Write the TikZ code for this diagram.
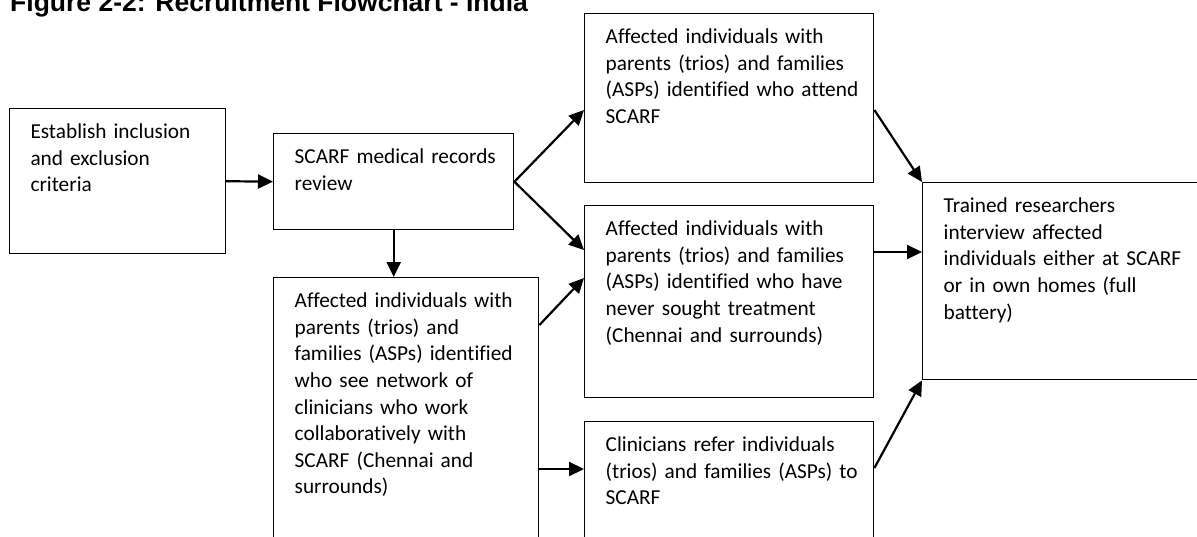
\documentclass[tikz,border=0pt]{standalone}
\usepackage{fontspec}
\setmainfont{Carlito}[Ligatures=CommonOff]
\newfontfamily\headfont{Liberation Sans}
\usepackage{tikz}
\usetikzlibrary{arrows.meta, positioning}

\newcommand{\boxtext}{\fontsize{21.3}{26.6}\selectfont}

\begin{document}
\begin{tikzpicture}[x=1pt, y=-1pt,
    flowbox/.style={draw, rectangle, line width=1.4pt, anchor=north west, inner sep=0pt, align=left, font=\boxtext, text height=30pt, execute at begin node={\leftskip=21pt}},
    arr/.style={-{Triangle[length=15pt, width=14pt]}, line width=2.2pt}]

    \useasboundingbox (0,0) rectangle (1197,536);
    \clip (0,0) rectangle (1197,536);

    % Title
    \node (title) [anchor=base west, inner sep=0pt, font=\headfont\bfseries\fontsize{26.5}{30}\selectfont] at (10,11) {Figure 2-2: Recruitment Flowchart - India};

    % Nodes for the first two steps
    \node (crit) [flowbox, text width=216pt, text depth=115pt] at (8.8,108) {Establish inclusion\\and exclusion\\criteria};
    \node (review) [flowbox, text width=240pt, text depth=66pt] at (273,133) {SCARF medical records\\review};
    \node (network) [flowbox, text width=265pt, text depth=270pt] at (273,277) {Affected individuals with\\parents (trios) and\\families (ASPs) identified\\who see network of\\clinicians who work\\collaboratively with\\SCARF (Chennai and\\surrounds)};

    % Nodes for the three recruitment routes
    \node (attend) [flowbox, text width=289pt, text depth=139pt] at (584,13) {Affected individuals with\\parents (trios) and families\\(ASPs) identified who attend\\SCARF};
    \node (never) [flowbox, text width=289pt, text depth=162pt] at (584,205) {Affected individuals with\\parents (trios) and families\\(ASPs) identified who have\\never sought treatment\\(Chennai and surrounds)};
    \node (refer) [flowbox, text width=289pt, text depth=130pt] at (584,421) {Clinicians refer individuals\\(trios) and families (ASPs) to\\SCARF};

    % Node for the interview
    \node (trained) [flowbox, text width=320pt, text depth=167pt] at (922,182) {Trained researchers\\interview affected\\individuals either at SCARF\\or in own homes (full\\battery)};

    % Draw arrows between the steps
    \draw[arr] (crit.east) -- (review.west);
    \draw[arr] (review.east) -- ([yshift=-97pt]attend.north west);
    \draw[arr] (review.east) -- ([yshift=-45pt]never.north west);
    \draw[arr] (review.south) -- (review.south |- network.north);
    \draw[arr] ([yshift=-48pt]network.north east) -- ([yshift=-73pt]never.north west);
    \draw[arr] ([yshift=-192pt]network.north east) -- ([yshift=-48pt]refer.north west);

    \draw[arr] ([yshift=-97pt]attend.north east) -- (trained.north west);
    \draw[arr] ([yshift=-47pt]never.north east) -- ([yshift=-70pt]trained.north west);
    \draw[arr] ([yshift=-47pt]refer.north east) -- (trained.south west);

\end{tikzpicture}
\end{document}
